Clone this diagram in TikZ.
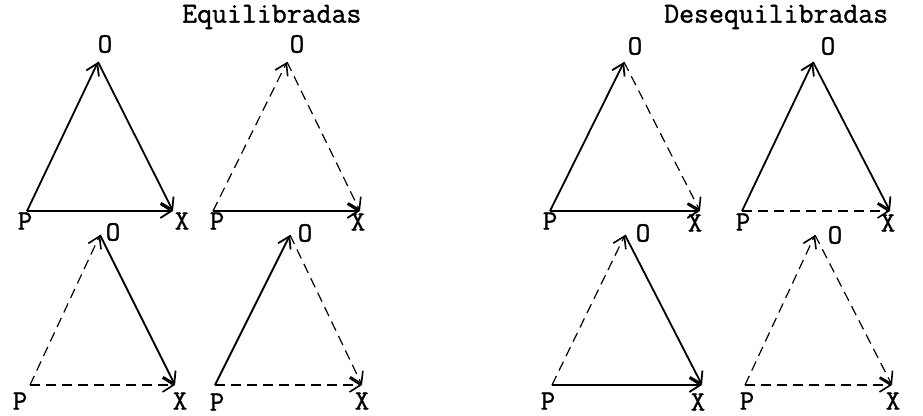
\documentclass[tikz,border=0pt]{standalone}
\usepackage{fontspec}
\newfontfamily\twfont[FakeBold=1.2]{Latin Modern Mono}
\usetikzlibrary{arrows.meta}
\tikzset{
  posline/.style={line width=1.8pt,-{Straight Barb[length=11pt,width=14pt,line width=1.8pt]}},
  negline/.style={line width=1.2pt,dash pattern=on 10pt off 6pt,-{Straight Barb[length=11pt,width=14pt,line width=1.6pt]}},
  lbl/.style={font=\fontsize{28}{28}\selectfont\twfont,inner sep=0pt},
  ttl/.style={font=\fontsize{29}{29}\selectfont\twfont,inner sep=0pt,anchor=west}
}
\begin{document}
\begin{tikzpicture}[x=1pt,y=-1pt]
\useasboundingbox (0,0) rectangle (923,415);
% titles
\node[ttl] (t1) at (182,17) {Equilibradas};
\node[ttl] (t2) at (664,17) {Desequilibradas};
% vertices
\coordinate (p1) at (27,211);  \coordinate (o1) at (98,62);  \coordinate (x1) at (173,211);
\coordinate (p2) at (213,211); \coordinate (o2) at (287,62); \coordinate (x2) at (360,211);
\coordinate (p3) at (30,385);  \coordinate (o3) at (100,235); \coordinate (x3) at (175,385);
\coordinate (p4) at (215,385); \coordinate (o4) at (290,235); \coordinate (x4) at (362,385);
\coordinate (p5) at (550,211); \coordinate (o5) at (624,62); \coordinate (x5) at (700,211);
\coordinate (p6) at (742,211); \coordinate (o6) at (813,62); \coordinate (x6) at (890,211);
\coordinate (p7) at (552,385); \coordinate (o7) at (625,235); \coordinate (x7) at (702,385);
\coordinate (p8) at (745,385); \coordinate (o8) at (815,235); \coordinate (x8) at (892,385);
% labels
\node[lbl] (lo1) at (105,44) {O}; \node[lbl] (lp1) at (25,221) {P}; \node[lbl] (lx1) at (182,221) {X};
\node[lbl] (lo2) at (297,44) {O}; \node[lbl] (lp2) at (217,221) {P}; \node[lbl] (lx2) at (358,222) {X};
\node[lbl] (lo3) at (113,232) {O}; \node[lbl] (lp3) at (20,401) {P}; \node[lbl] (lx3) at (180,401) {X};
\node[lbl] (lo4) at (305,233) {O}; \node[lbl] (lp4) at (217,402) {P}; \node[lbl] (lx4) at (362,401) {X};
\node[lbl] (lo5) at (635,46) {O}; \node[lbl] (lp5) at (550,221) {P}; \node[lbl] (lx5) at (695,223) {X};
\node[lbl] (lo6) at (828,46) {O}; \node[lbl] (lp6) at (743,222) {P}; \node[lbl] (lx6) at (888,223) {X};
\node[lbl] (lo7) at (643,233) {O}; \node[lbl] (lp7) at (548,401) {P}; \node[lbl] (lx7) at (698,402) {X};
\node[lbl] (lo8) at (835,235) {O}; \node[lbl] (lp8) at (747,401) {P}; \node[lbl] (lx8) at (893,401) {X};
% Equilibradas
\draw[posline] (p1) -- (o1); \draw[posline] (o1) -- (x1); \draw[posline] (p1) -- (x1);
\draw[negline] (p2) -- (o2); \draw[negline] (o2) -- (x2); \draw[posline] (p2) -- (x2);
\draw[negline] (p3) -- (o3); \draw[posline] (o3) -- (x3); \draw[negline] (p3) -- (x3);
\draw[posline] (p4) -- (o4); \draw[negline] (o4) -- (x4); \draw[negline] (p4) -- (x4);
% Desequilibradas
\draw[posline] (p5) -- (o5); \draw[negline] (o5) -- (x5); \draw[posline] (p5) -- (x5);
\draw[posline] (p6) -- (o6); \draw[posline] (o6) -- (x6); \draw[negline] (p6) -- (x6);
\draw[negline] (p7) -- (o7); \draw[posline] (o7) -- (x7); \draw[posline] (p7) -- (x7);
\draw[negline] (p8) -- (o8); \draw[negline] (o8) -- (x8); \draw[negline] (p8) -- (x8);
\end{tikzpicture}
\end{document}
